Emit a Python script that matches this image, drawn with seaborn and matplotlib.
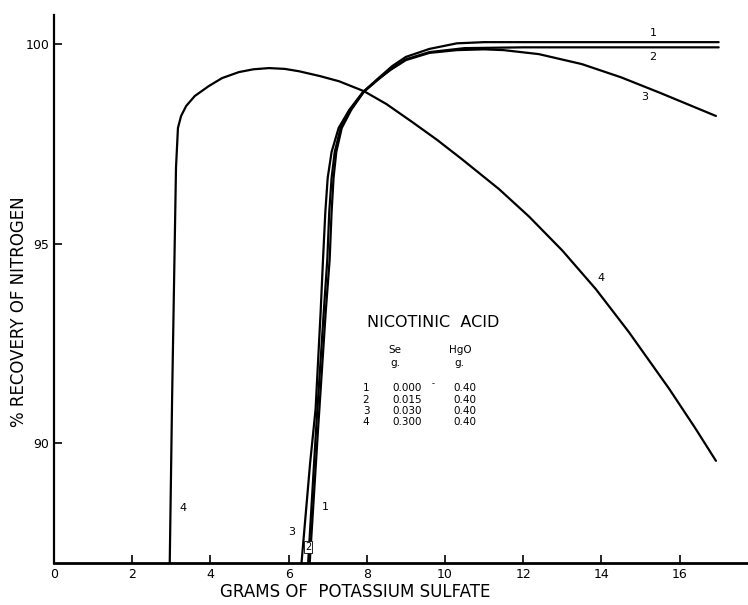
import numpy as np
import pandas as pd
import matplotlib
matplotlib.use("Agg")
import matplotlib.pyplot as plt
import seaborn as sns

# ----------------------------
# Data (grams K2SO4 vs % N recovery)
# ----------------------------
c1_x = [6.54, 6.75, 6.95, 7.05, 7.1, 7.15, 7.22, 7.36, 7.6, 7.93, 8.3, 8.65, 9.0, 9.6, 10.3, 11.0, 14.0, 17.0]
c1_y = [87.0, 90.3, 93.3, 94.6, 95.8, 96.65, 97.3, 97.9, 98.35, 98.82, 99.15, 99.45, 99.68, 99.88, 100.02, 100.05, 100.05, 100.05]

c2_x = [6.5, 6.7, 6.9, 6.99, 7.04, 7.1, 7.18, 7.33, 7.58, 7.92, 8.3, 8.65, 9.0, 9.6, 10.5, 12.0, 17.0]
c2_y = [87.0, 90.3, 93.3, 94.6, 95.8, 96.65, 97.3, 97.9, 98.35, 98.8, 99.12, 99.4, 99.62, 99.8, 99.9, 99.92, 99.92]

c3_x = [6.33, 6.55, 6.69, 6.82, 6.88, 6.94, 7.0, 7.1, 7.28, 7.55, 7.9, 8.26, 8.6, 9.0, 9.6, 10.3, 11.0,
        11.5, 12.4, 13.5, 14.5, 15.5, 16.93]
c3_y = [87.0, 89.5, 90.85, 93.3, 94.6, 95.8, 96.65, 97.3, 97.9, 98.35, 98.8, 99.1, 99.35, 99.6, 99.78,
        99.85, 99.87, 99.85, 99.75, 99.5, 99.17, 98.78, 98.2]

c4_x = [2.96, 3.02, 3.12, 3.17, 3.25, 3.38, 3.6, 3.96, 4.3, 4.73, 5.1, 5.5, 5.9, 6.27, 6.8, 7.29, 7.93,
        8.5, 9.16, 9.8, 10.43, 11.38, 12.15, 13.0, 13.86, 14.7, 15.73, 16.4, 16.93]
c4_y = [87.0, 91.1, 96.9, 97.9, 98.2, 98.45, 98.7, 98.95, 99.15, 99.3, 99.37, 99.4, 99.38, 99.32, 99.2,
        99.07, 98.82, 98.5, 98.05, 97.6, 97.12, 96.37, 95.68, 94.83, 93.86, 92.79, 91.37, 90.38, 89.56]

x_ticks = [0, 2, 4, 6, 8, 10, 12, 14, 16]
y_ticks = [90, 95, 100]

table_rows = ["1", "2", "3", "4"]
se_grams = ["0.000", "0.015", "0.030", "0.300"]
hgo_grams = ["0.40", "0.40", "0.40", "0.40"]

# ----------------------------
# Long table for seaborn
# ----------------------------
frames = []
for name, xs, ys in [("1", c1_x, c1_y), ("2", c2_x, c2_y), ("3", c3_x, c3_y), ("4", c4_x, c4_y)]:
    frames.append(pd.DataFrame({"grams": xs, "recovery": ys, "curve": name}))
df = pd.concat(frames, ignore_index=True)

sns.set_style("ticks", {"text.color": "black", "axes.labelcolor": "black",
                        "xtick.color": "black", "ytick.color": "black",
                        "axes.edgecolor": "black"})
plt.rcParams['font.family'] = ['DejaVu Sans']

fig = plt.figure(figsize=(7.48, 6.05), dpi=100)
ax = fig.add_axes([0.0722, 0.0694, 0.9278, 0.9058])

sns.lineplot(data=df, x="grams", y="recovery", units="curve", estimator=None,
             sort=False, color="black", linewidth=1.6, ax=ax)
for line in ax.get_lines():
    line.set_solid_joinstyle("round")

ax.set_xlim(0, 17.75)
ax.set_ylim(87, 100.73)
ax.set_xticks(x_ticks)
ax.set_yticks(y_ticks)
ax.tick_params(direction="in", length=6, width=1.2, labelsize=9, colors="black")
sns.despine(ax=ax)
ax.spines["left"].set_linewidth(1.6)
ax.spines["bottom"].set_linewidth(2.0)

ax.set_xlabel("GRAMS OF  POTASSIUM SULFATE", fontsize=12)
ax.xaxis.set_label_coords(0.434, -0.036)
ax.set_ylabel("% RECOVERY OF NITROGEN", fontsize=12)
ax.yaxis.set_label_coords(-0.038, 0.458)

# curve labels
curve_labels = [("1", 15.32, 100.28), ("2", 15.32, 99.67), ("3", 15.11, 98.67),
                ("4", 14.0, 94.15), ("4", 3.30, 88.37), ("1", 6.93, 88.4),
                ("3", 6.09, 87.77)]
for t, lx, ly in curve_labels:
    ax.text(lx, ly, t, fontsize=8, ha="center", va="center")
ax.text(6.5, 87.4, "2", fontsize=7, ha="center", va="center",
        bbox=dict(boxstyle="square,pad=0.1", fc="white", ec="black", lw=0.6))

# legend table
ax.text(9.69, 93.03, "NICOTINIC  ACID", fontsize=11.5, ha="center", va="center")
ax.text(8.72, 92.33, "Se", fontsize=7.5, ha="center", va="center")
ax.text(8.72, 92.0, "g.", fontsize=7.5, ha="center", va="center")
ax.text(10.38, 92.33, "HgO", fontsize=7.5, ha="center", va="center")
ax.text(10.38, 92.0, "g.", fontsize=7.5, ha="center", va="center")
row_y = [91.38, 91.08, 90.80, 90.53]
for r, se, hg, ry in zip(table_rows, se_grams, hgo_grams, row_y):
    ax.text(7.98, ry, r, fontsize=7.5, ha="center", va="center")
    ax.text(9.03, ry, se, fontsize=7.5, ha="center", va="center")
    ax.text(10.51, ry, hg, fontsize=7.5, ha="center", va="center")
ax.text(9.69, 91.5, "-", fontsize=6, ha="center", va="center")

fig.savefig("out.png", dpi=100)
